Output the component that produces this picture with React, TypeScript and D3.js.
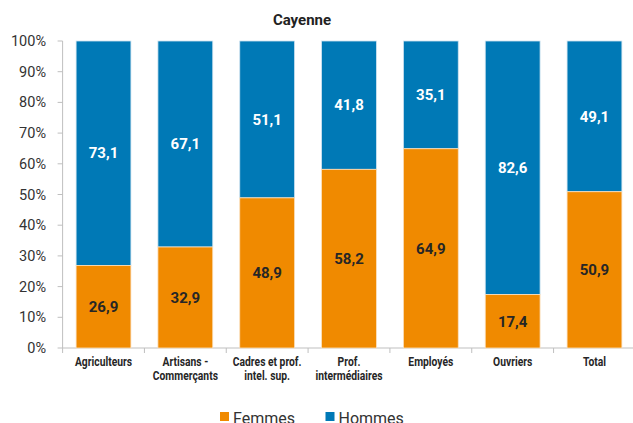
import React from "react";
import * as d3 from "d3";

const categories = [
  ["Agriculteurs"],
  ["Artisans -", "Commerçants"],
  ["Cadres et prof.", "intel. sup."],
  ["Prof.", "intermédiaires"],
  ["Employés"],
  ["Ouvriers"],
  ["Total"],
];
const femmes = [26.9, 32.9, 48.9, 58.2, 64.9, 17.4, 50.9];
const hommes = [73.1, 67.1, 51.1, 41.8, 35.1, 82.6, 49.1];
const yTicks = [0, 10, 20, 30, 40, 50, 60, 70, 80, 90, 100];
const seriesNames = ["Femmes", "Hommes"];
const colors = ["#F08A00", "#0079B6"];

const W = 633;
const H = 423;
const left = 62.6;
const top = 41;
const bottom = 348;
const plotRight = 635.4;

export default function App() {
  const x = d3
    .scaleBand<number>()
    .domain(d3.range(categories.length))
    .range([left, plotRight])
    .paddingInner(0.33)
    .paddingOuter(0.165);
  const y = d3.scaleLinear().domain([0, 100]).range([bottom, top]);
  const fmt = (v: number) => v.toFixed(1).replace(".", ",");
  const font = "Roboto, 'Liberation Sans', sans-serif";
  const bandStep = x.step();

  return (
    <svg
      width={W}
      height={H}
      style={{ position: "absolute", left: 0, top: 0, background: "#fff" }}
      fontFamily={font}
    >
      <text x={302} y={25} textAnchor="middle" fontSize={15} fontWeight="bold" fill="#222">
        Cayenne
      </text>
      {/* y axis */}
      <line x1={left} x2={left} y1={top} y2={bottom} stroke="#bfbfbf" />
      {yTicks.map((t) => (
        <g key={t}>
          <line x1={left - 5} x2={left} y1={y(t)} y2={y(t)} stroke="#bfbfbf" />
          <text x={46} y={y(t)} dy="0.35em" textAnchor="end" fontSize={14.5} fill="#333">
            {t}%
          </text>
        </g>
      ))}
      {/* x axis */}
      <line x1={left} x2={plotRight} y1={bottom} y2={bottom} stroke="#bfbfbf" />
      {categories.map((_, i) => (
        <line
          key={"t" + i}
          x1={left + i * bandStep}
          x2={left + i * bandStep}
          y1={bottom}
          y2={bottom + 5}
          stroke="#bfbfbf"
        />
      ))}
      {categories.map((c, i) => {
        const bx = x(i)!;
        const bw = x.bandwidth();
        const cx = bx + bw / 2;
        const f = femmes[i];
        const h = hommes[i];
        return (
          <g key={i}>
            <rect x={bx} y={y(100)} width={bw} height={y(f) - y(100)} fill={colors[1]} stroke="#cfe3f0" strokeWidth={0.8} />
            <rect x={bx} y={y(f)} width={bw} height={y(0) - y(f)} fill={colors[0]} stroke="#fbe0bf" strokeWidth={0.8} />
            <text x={cx} y={y(f + h / 2)} dy="0.35em" textAnchor="middle" fontSize={15} fontWeight="bold" fill="#fff">
              {fmt(h)}
            </text>
            <text x={cx} y={y(f / 2)} dy="0.35em" textAnchor="middle" fontSize={15} fontWeight="bold" fill="#262626">
              {fmt(f)}
            </text>
            <g transform={`translate(${cx},0) scale(0.86,1)`}>
              {c.map((line, k) => (
                <text
                  key={k}
                  x={0}
                  y={366.5 + k * 13.5}
                  textAnchor="middle"
                  fontSize={12}
                  fontWeight="bold"
                  fill="#262626"
                >
                  {line}
                </text>
              ))}
            </g>
          </g>
        );
      })}
      {/* legend */}
      {seriesNames.map((s, i) => {
        const lx = i === 0 ? 220 : 325.5;
        return (
          <g key={s}>
            <rect x={lx} y={412} width={9} height={9} fill={colors[i]} />
            <text x={lx + 13} y={424} fontSize={16} fill="#333">
              {s}
            </text>
          </g>
        );
      })}
    </svg>
  );
}
